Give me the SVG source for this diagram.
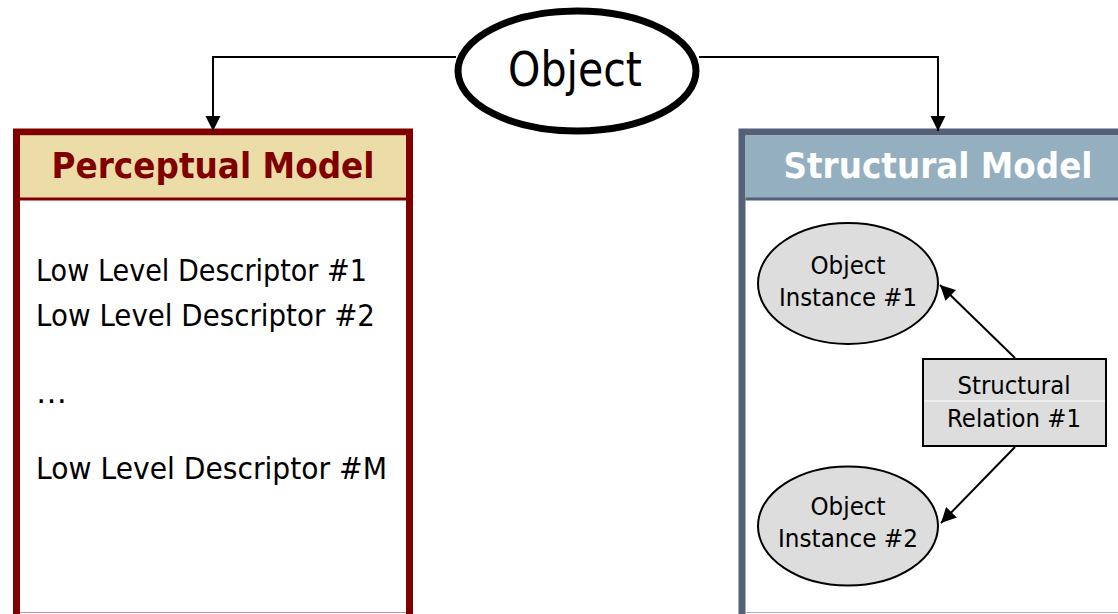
<svg xmlns="http://www.w3.org/2000/svg" width="1118" height="614" viewBox="0 0 1118 614">
<defs>
<style>
.conn{fill:none;stroke:#000;stroke-width:2}
.body{font-family:"DejaVu Sans",sans-serif;font-size:31px;fill:#000}
.small{font-family:"DejaVu Sans",sans-serif;font-size:24.5px;fill:#000;text-anchor:middle}
.title{font-family:"DejaVu Sans",sans-serif;font-weight:bold;font-size:35px;text-anchor:middle}
.inst{fill:#DDDDDD;stroke:#000;stroke-width:2}
</style>
<marker id="arr" markerUnits="userSpaceOnUse" markerWidth="18" markerHeight="18" refX="15" refY="7.5" orient="auto">
<path d="M0,0 L15,7.5 L0,15 z" fill="#000"/>
</marker>
</defs>
<rect width="1118" height="614" fill="#fff"/>

<g id="object">
<ellipse cx="577" cy="71" rx="119" ry="60" fill="#fff" stroke="#000" stroke-width="7"/>
<text x="575" y="86" font-family="DejaVu Sans, sans-serif" font-size="48" text-anchor="middle" textLength="134" lengthAdjust="spacingAndGlyphs">Object</text>
</g>

<g id="perceptual-model">
<rect x="16.5" y="132" width="393" height="520" fill="#fff" stroke="#800000" stroke-width="7"/>
<rect x="20" y="135.5" width="386" height="63" fill="#ECDCA8"/>
<line x1="20" y1="199" x2="406" y2="199" stroke="#800000" stroke-width="3"/>
<line x1="20" y1="612.5" x2="406" y2="612.5" stroke="#C89090" stroke-width="1"/>
<text class="title" x="213" y="178" fill="#800000" textLength="323" lengthAdjust="spacingAndGlyphs">Perceptual Model</text>
<text class="body" x="36" y="281" textLength="331" lengthAdjust="spacingAndGlyphs">Low Level Descriptor #1</text>
<text class="body" x="36" y="326" textLength="339" lengthAdjust="spacingAndGlyphs">Low Level Descriptor #2</text>
<text class="body" x="36" y="403">…</text>
<text class="body" x="36" y="479" textLength="351" lengthAdjust="spacingAndGlyphs">Low Level Descriptor #M</text>
</g>

<g id="structural-model">
<rect x="742" y="132" width="420" height="520" fill="#fff" stroke="#536078" stroke-width="7"/>
<rect x="745.5" y="135.5" width="400" height="63" fill="#93AFC0"/>
<line x1="745.5" y1="199" x2="1118" y2="199" stroke="#536078" stroke-width="3"/>
<line x1="746" y1="612.5" x2="1118" y2="612.5" stroke="#A8B0C0" stroke-width="1"/>
<text class="title" x="938" y="178" fill="#fff" textLength="309" lengthAdjust="spacingAndGlyphs">Structural Model</text>
</g>

<g id="instance1">
<ellipse class="inst" cx="848" cy="283.5" rx="90" ry="60.5"/>
<text class="small" x="848" y="274" textLength="75" lengthAdjust="spacingAndGlyphs">Object</text>
<text class="small" x="848" y="306" textLength="138" lengthAdjust="spacingAndGlyphs">Instance #1</text>
</g>

<g id="instance2">
<ellipse class="inst" cx="848" cy="526" rx="90" ry="59.5"/>
<text class="small" x="848" y="515" textLength="75" lengthAdjust="spacingAndGlyphs">Object</text>
<text class="small" x="848" y="547" textLength="140" lengthAdjust="spacingAndGlyphs">Instance #2</text>
</g>

<g id="relation1">
<rect x="923" y="359" width="183" height="87" fill="#DDDDDD" stroke="#000" stroke-width="2"/>
<line x1="924" y1="401" x2="1105" y2="401" stroke="#fff" stroke-width="1"/>
<text class="small" x="1014" y="394" textLength="113" lengthAdjust="spacingAndGlyphs">Structural</text>
<text class="small" x="1014" y="427" textLength="134" lengthAdjust="spacingAndGlyphs">Relation #1</text>
</g>

<g id="connectors">
<polyline class="conn" points="456,57 213,57 213,131" marker-end="url(#arr)"/>
<polyline class="conn" points="699,57 938,57 938,131" marker-end="url(#arr)"/>
<line class="conn" x1="1015" y1="358" x2="940" y2="285" marker-end="url(#arr)"/>
<line class="conn" x1="1015" y1="447" x2="941" y2="523" marker-end="url(#arr)"/>
</g>
</svg>
